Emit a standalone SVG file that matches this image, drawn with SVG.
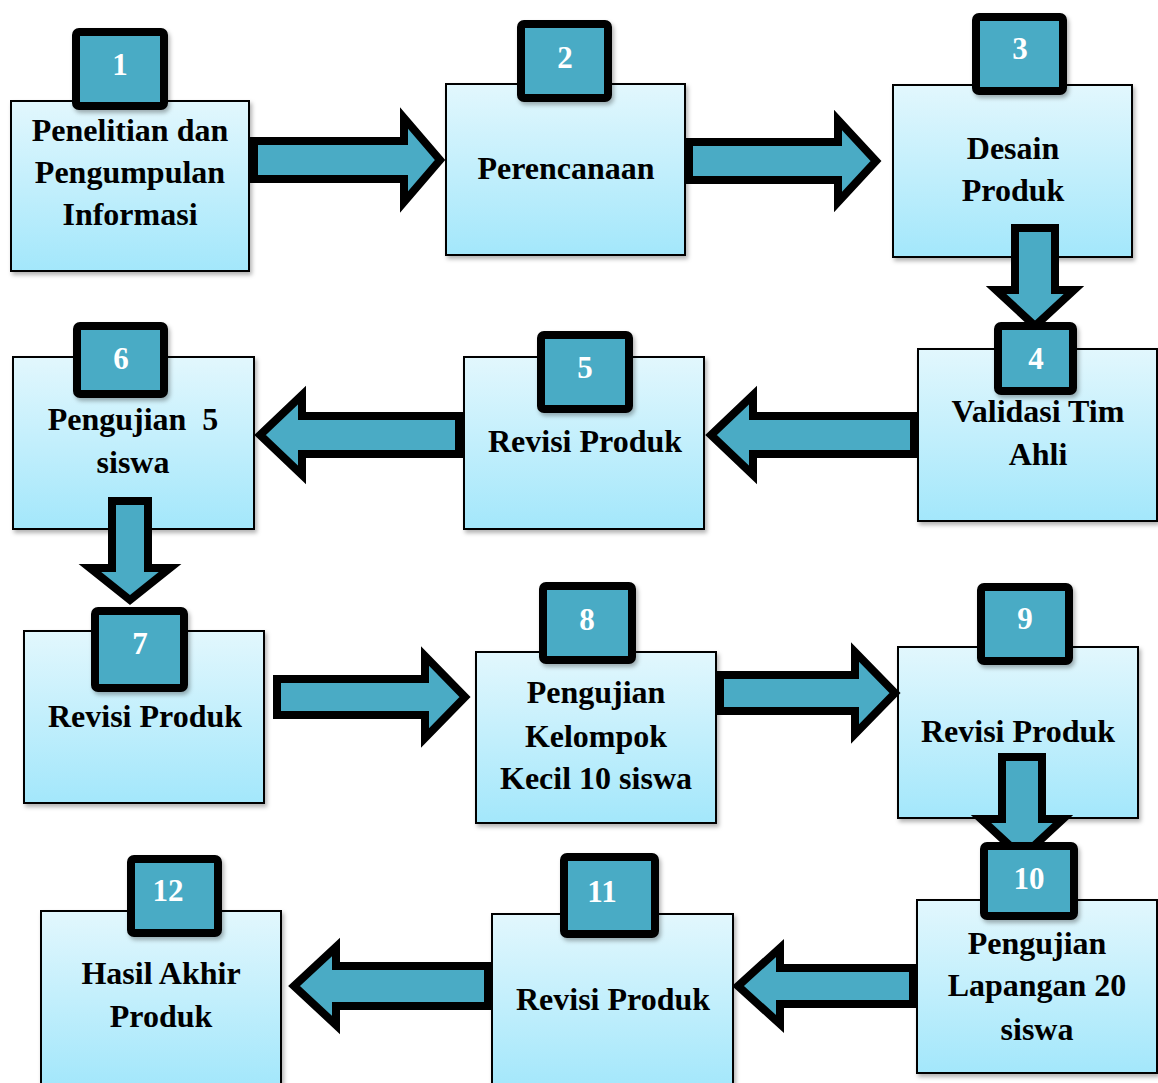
<svg xmlns="http://www.w3.org/2000/svg" width="1158" height="1083" viewBox="0 0 1158 1083">
<defs>
<linearGradient id="bg" x1="0" y1="0" x2="0" y2="1">
<stop offset="0" stop-color="#e2f7fd"/>
<stop offset="1" stop-color="#a3e7fb"/>
</linearGradient>
<filter id="sh" x="-10%" y="-10%" width="130%" height="130%">
<feDropShadow dx="2" dy="3" stdDeviation="2" flood-color="#000" flood-opacity="0.3"/>
</filter>
</defs>
<style>
.box{fill:url(#bg);stroke:#000;stroke-width:2;filter:url(#sh)}
.badge{fill:#4aabc5;stroke:#000;stroke-width:8;filter:url(#sh)}
.arr{fill:#4aabc5;stroke:#000;stroke-width:8;stroke-linejoin:miter;stroke-miterlimit:10}
.t{font-family:"Liberation Serif","Times New Roman",serif;font-weight:bold;font-size:32px;fill:#000;text-anchor:middle}
.n{font-family:"Liberation Serif","Times New Roman",serif;font-weight:bold;font-size:31px;fill:#fff;text-anchor:middle}
</style>
<rect width="1158" height="1083" fill="#fff"/>
<g id="node-1"><rect class="box" x="11" y="101" width="238" height="170"/>
<text class="t" x="130" y="141">Penelitian dan</text><text class="t" x="130" y="183">Pengumpulan</text><text class="t" x="130" y="225">Informasi</text></g>
<g id="node-2"><rect class="box" x="446" y="84" width="239" height="171"/>
<text class="t" x="566" y="179">Perencanaan</text></g>
<g id="node-3"><rect class="box" x="893" y="85" width="239" height="172"/>
<text class="t" x="1013" y="159">Desain</text><text class="t" x="1013" y="201">Produk</text></g>
<g id="node-4"><rect class="box" x="918" y="349" width="239" height="172"/>
<text class="t" x="1038" y="422">Validasi Tim</text><text class="t" x="1038" y="465">Ahli</text></g>
<g id="node-5"><rect class="box" x="464" y="357" width="240" height="172"/>
<text class="t" x="585" y="452">Revisi Produk</text></g>
<g id="node-6"><rect class="box" x="13" y="357" width="241" height="172"/>
<text class="t" x="133" y="430" xml:space="preserve">Pengujian  5</text><text class="t" x="133" y="473">siswa</text></g>
<g id="node-7"><rect class="box" x="24" y="631" width="240" height="172"/>
<text class="t" x="145" y="727">Revisi Produk</text></g>
<g id="node-8"><rect class="box" x="476" y="652" width="240" height="171"/>
<text class="t" x="596" y="703">Pengujian</text><text class="t" x="596" y="747">Kelompok</text><text class="t" x="596" y="789">Kecil 10 siswa</text></g>
<g id="node-9"><rect class="box" x="898" y="647" width="240" height="171"/>
<text class="t" x="1018" y="742">Revisi Produk</text></g>
<g id="node-10"><rect class="box" x="917" y="900" width="240" height="173"/>
<text class="t" x="1037" y="954">Pengujian</text><text class="t" x="1037" y="996">Lapangan 20</text><text class="t" x="1037" y="1040">siswa</text></g>
<g id="node-11"><rect class="box" x="492" y="914" width="241" height="175"/>
<text class="t" x="613" y="1010">Revisi Produk</text></g>
<g id="node-12"><rect class="box" x="41" y="911" width="240" height="175"/>
<text class="t" x="161" y="984">Hasil Akhir</text><text class="t" x="161" y="1027">Produk</text></g>
<g id="connectors">
<polygon class="arr" points="254,141 404,141 404,118 440,160 404,202 404,179 254,179"/>
<polygon class="arr" points="689,142 838,142 838,120 876,161 838,202 838,180 689,180"/>
<polygon class="arr" points="1015,228 1055,228 1055,290 1074,290 1035,326 996,290 1015,290"/>
<polygon class="arr" points="914,416 753,416 753,395 711,435 753,475 753,454 914,454"/>
<polygon class="arr" points="459,416 302,416 302,395 260,435 302,475 302,454 459,454"/>
<polygon class="arr" points="112,501 148,501 148,568 170,568 130,600 90,568 112,568"/>
<polygon class="arr" points="277,679 425,679 425,656 465,697 425,738 425,715 277,715"/>
<polygon class="arr" points="720,675 855,675 855,652 895,693 855,734 855,711 720,711"/>
<polygon class="arr" points="1002,757 1042,757 1042,819 1063,819 1022,857 981,819 1002,819"/>
<polygon class="arr" points="913,968 780,968 780,948 738,986 780,1024 780,1004 913,1004"/>
<polygon class="arr" points="488,966 336,966 336,947 294,986 336,1025 336,1006 488,1006"/>
</g>
<g id="badge-1"><rect class="badge" x="76" y="32" width="88" height="74" rx="3"/><text class="n" x="120" y="75">1</text></g>
<g id="badge-2"><rect class="badge" x="521" y="24" width="87" height="74" rx="3"/><text class="n" x="565" y="68">2</text></g>
<g id="badge-3"><rect class="badge" x="976" y="17" width="87" height="74" rx="3"/><text class="n" x="1020" y="59">3</text></g>
<g id="badge-4"><rect class="badge" x="998" y="326" width="75" height="65" rx="3"/><text class="n" x="1036" y="369">4</text></g>
<g id="badge-5"><rect class="badge" x="541" y="335" width="88" height="74" rx="3"/><text class="n" x="585" y="378">5</text></g>
<g id="badge-6"><rect class="badge" x="77" y="326" width="87" height="68" rx="3"/><text class="n" x="121" y="369">6</text></g>
<g id="badge-7"><rect class="badge" x="95" y="611" width="89" height="77" rx="3"/><text class="n" x="140" y="654">7</text></g>
<g id="badge-8"><rect class="badge" x="543" y="586" width="89" height="74" rx="3"/><text class="n" x="587" y="630">8</text></g>
<g id="badge-9"><rect class="badge" x="981" y="587" width="88" height="74" rx="3"/><text class="n" x="1025" y="629">9</text></g>
<g id="badge-10"><rect class="badge" x="984" y="846" width="90" height="70" rx="3"/><text class="n" x="1029" y="889">10</text></g>
<g id="badge-11"><rect class="badge" x="564" y="857" width="91" height="77" rx="3"/><text class="n" x="602" y="902">11</text></g>
<g id="badge-12"><rect class="badge" x="131" y="859" width="87" height="74" rx="3"/><text class="n" x="168" y="901">12</text></g>
</svg>
